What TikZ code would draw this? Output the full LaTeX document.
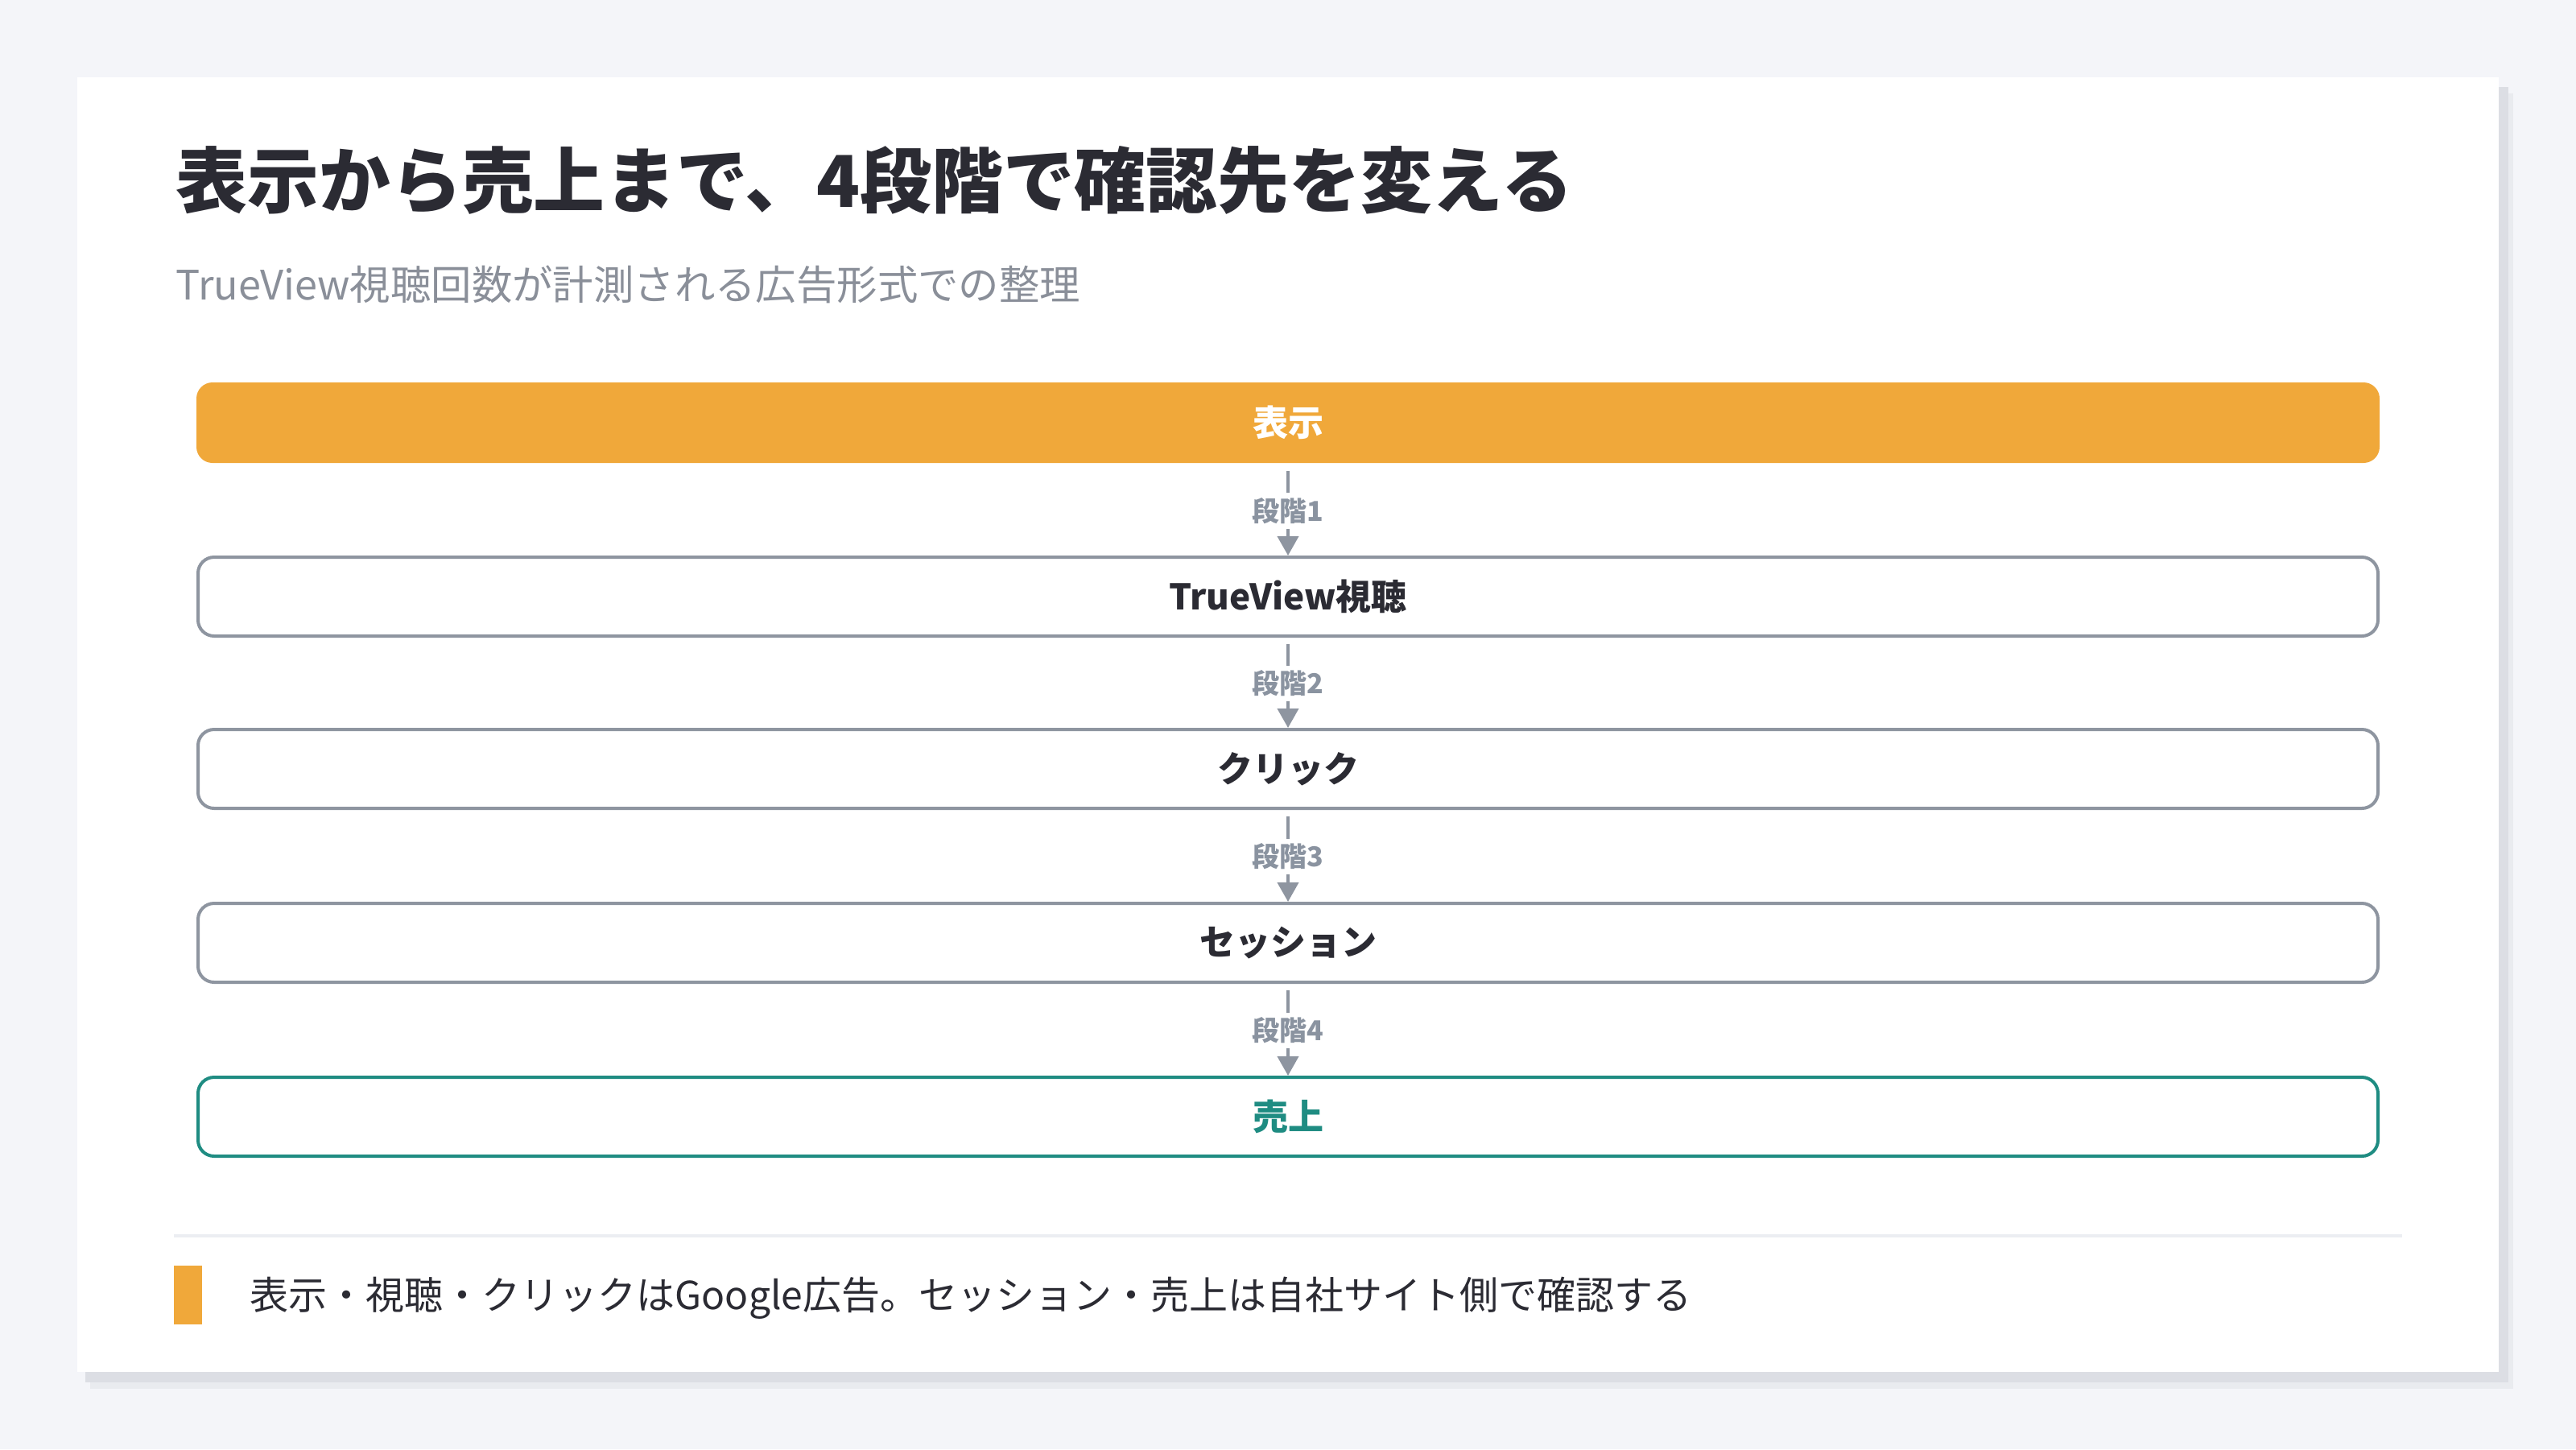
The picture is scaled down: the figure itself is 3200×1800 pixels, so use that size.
\documentclass[tikz,border=0pt]{standalone}
\usepackage{fontspec}
\setmainfont{Noto Sans CJK JP}
\usetikzlibrary{arrows.meta}
\definecolor{bgc}{HTML}{F4F5F9}
\definecolor{shadowA}{HTML}{E9EBEF}
\definecolor{shadowB}{HTML}{DCDEE4}
\definecolor{orangec}{HTML}{F0A83A}
\definecolor{grayborder}{HTML}{8E95A0}
\definecolor{graylabel}{HTML}{8A93A0}
\definecolor{tealc}{HTML}{1F8C82}
\definecolor{titlec}{HTML}{2B2B33}
\definecolor{subc}{HTML}{8A8F99}
\definecolor{divc}{HTML}{ECEEF2}
\tikzset{
  stagebox/.style={draw=grayborder, line width=1pt, rounded corners=5pt, fill=white,
    minimum width=677pt, minimum height=24.5pt, inner sep=0pt,
    font=\bfseries\fontsize{11}{13}\selectfont, text=titlec},
  stagelabel/.style={fill=white, inner sep=1.5pt, text=graylabel,
    font=\bfseries\fontsize{8.5}{10}\selectfont},
  flowline/.style={draw=grayborder, line width=1pt, -{Triangle[width=6.5pt,length=6pt]}}
}
\begin{document}
\begin{tikzpicture}[x=0.25pt,y=-0.25pt]
\useasboundingbox (0,0) rectangle (3200,1800);
\fill[bgc] (0,0) rectangle (3200,1800);
% card shadow
\fill[shadowA] (112,116) rectangle (3122,1725);
\fill[shadowB] (106,108) rectangle (3116,1717);
\fill[white] (96,96) rectangle (3104,1704);
% title
\node[anchor=west, inner sep=0pt, text=titlec, font=\bfseries\fontsize{22.2}{26}\selectfont] (title) at (218,224) {表示から売上まで、4段階で確認先を変える};
\node[anchor=west, inner sep=0pt, text=subc, font=\fontsize{12.6}{15}\selectfont] (sub) at (218,353) {TrueView視聴回数が計測される広告形式での整理};
% bars
\node[stagebox, draw=none, fill=orangec, text=white, minimum width=678pt, minimum height=25pt] (s0) at (1600,525) {表示};
\node[stagebox] (s1) at (1600,741) {TrueView視聴};
\node[stagebox] (s2) at (1600,955) {クリック};
\node[stagebox] (s3) at (1600,1171) {セッション};
\node[stagebox, draw=tealc, text=tealc] (s4) at (1600,1387) {売上};
% connectors
\foreach \a/\b/\n in {s0/s1/1, s1/s2/2, s2/s3/3, s3/s4/4}{
  \draw[flowline] ([yshift=-2pt]\a.south) -- (\b.north)
    node[stagelabel, pos=0.47] (lab\n) {段階\n};
}
% divider
\draw[divc, line width=1pt] (216,1535) -- (2984,1535);
% footer
\fill[orangec] (216,1572) rectangle (251,1645);
\node[anchor=west, inner sep=0pt, text=titlec, font=\fontsize{12}{14}\selectfont] (foot) at (310,1612) {表示・視聴・クリックはGoogle広告。セッション・売上は自社サイト側で確認する};
\end{tikzpicture}
\end{document}
